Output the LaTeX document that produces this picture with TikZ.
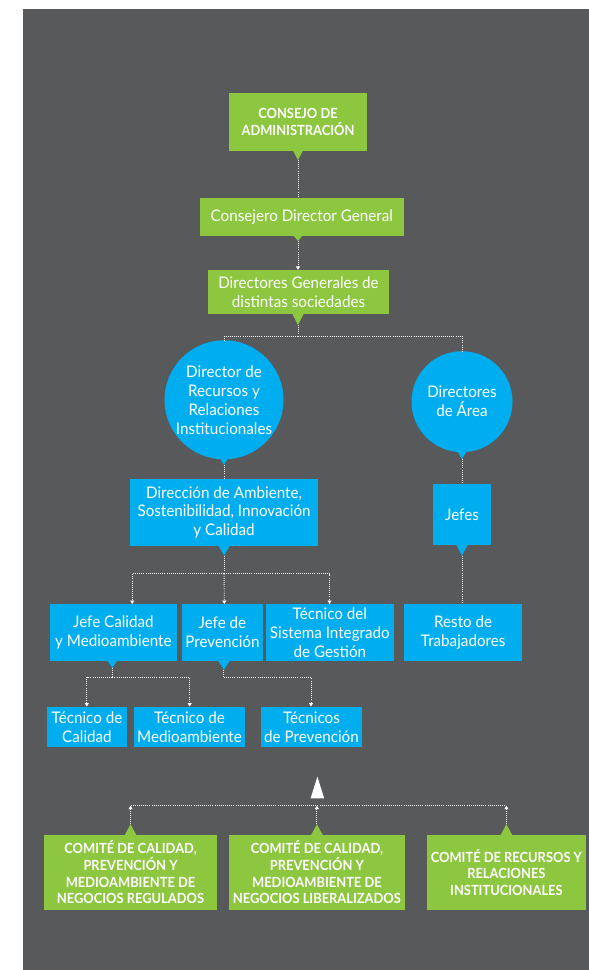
\documentclass[tikz,border=0pt]{standalone}
\usepackage{fontspec}
\setmainfont{Lato}[FakeStretch=0.95]
\newfontfamily\capsfont{Lato}[FakeStretch=0.92]
\usetikzlibrary{arrows.meta,calc}
\definecolor{panel}{RGB}{88,89,91}
\definecolor{cgreen}{RGB}{141,198,63}
\definecolor{cblue}{RGB}{0,174,239}
\begin{document}
\begin{tikzpicture}[x=1pt,y=-1pt,
  base/.style={text=white,inner sep=0pt,align=center},
  gbox/.style={base,fill=cgreen,font=\capsfont\bfseries\fontsize{14}{16.7}\selectfont},
  gboxr/.style={base,fill=cgreen,font=\fontsize{16}{18.8}\selectfont},
  bbox/.style={base,fill=cblue,font=\fontsize{16}{18.8}\selectfont},
  bcirc/.style={base,circle,fill=cblue,font=\fontsize{16}{19}\selectfont},
  conn/.style={draw=white,line width=0.9pt,dash pattern=on 0.9pt off 1.2pt},
  tipa/.style={-{Triangle[width=4pt,length=3.5pt]}}
]
\useasboundingbox (0,0) rectangle (589,970);
\fill[white] (0,0) rectangle (589,970);
\fill[panel] (22.9,9) rectangle (589,970);

% nodes
\node[gbox,minimum width=137.4,minimum height=57.4] (consejo) at (298,122) {CONSEJO DE\\ADMINISTRACIÓN};
\node[gboxr,minimum width=204,minimum height=38] (consejero) at (301.8,216.7) {Consejero Director General};
\node[gboxr,minimum width=180.7,minimum height=44.3] (dirgen) at (298.5,292.2) {Directores Generales de\\distintas sociedades};
\node[bcirc,minimum size=119] (circL) at (224,399.8) {Director de\\Recursos y\\Relaciones\\Institucionales};
\node[bcirc,minimum size=101] (circR) at (462,401.7) {Directores\\de Área};
\node[bbox,minimum width=188.2,minimum height=66.7] (direc) at (224.1,512.4) {Dirección de Ambiente,\\Sostenibilidad, Innovación\\y Calidad};
\node[bbox,minimum width=57.9,minimum height=60.7] (jefes) at (462,514.4) {Jefes};
\node[bbox,minimum width=126.8,minimum height=57] (jefecal) at (113.4,632.5) {Jefe Calidad\\y Medioambiente};
\node[bbox,minimum width=80.4,minimum height=57] (jefeprev) at (222.4,632.5) {Jefe de\\Prevención};
\node[bbox,minimum width=127.7,minimum height=57] (tecsig) at (329.85,632.5) {Técnico del\\Sistema Integrado\\de Gestión};
\node[bbox,minimum width=118,minimum height=57] (resto) at (463.2,632.5) {Resto de\\Trabajadores};
\node[bbox,minimum width=79.4,minimum height=40] (teccal) at (87,727) {Técnico de\\Calidad};
\node[bbox,minimum width=110.4,minimum height=40] (tecmed) at (189.5,727) {Técnico de\\Medioambiente};
\node[bbox,minimum width=100.7,minimum height=40] (tecprev) at (311.45,727) {Técnicos\\de Prevención};
\node[gbox,minimum width=173.1,minimum height=74.7] (com1) at (130.55,872.35) {COMITÉ DE CALIDAD,\\PREVENCIÓN Y\\MEDIOAMBIENTE DE\\NEGOCIOS REGULADOS};
\node[gbox,minimum width=175.4,minimum height=74.7] (com2) at (316.9,872.35) {COMITÉ DE CALIDAD,\\PREVENCIÓN Y\\MEDIOAMBIENTE DE\\NEGOCIOS LIBERALIZADOS};
\node[gbox,minimum width=158.6,minimum height=74.7] (com3) at (506.4,872.35) {COMITÉ DE RECURSOS Y\\RELACIONES\\INSTITUCIONALES};

% pointer tips
\coordinate (t1) at (298,160);
\coordinate (t2) at (298,241);
\coordinate (t3) at (298,325);
\coordinate (t4) at (224,465);
\coordinate (t5) at (462,459);
\coordinate (t6) at (224.1,555.7);
\coordinate (t7) at (462,555.7);
\coordinate (t8) at (112.3,668);
\coordinate (t9) at (223.9,670);
\coordinate (u1) at (130.55,824.3);
\coordinate (u2) at (316.9,824.3);
\coordinate (u3) at (506.4,824.3);

\fill[cgreen] (t1) -- ++(-5,-9.5) -- ++(10,0) -- cycle;
\fill[cgreen] (t2) -- ++(-5,-6) -- ++(10,0) -- cycle;
\fill[cgreen] (t3) -- ++(-5.5,-11) -- ++(11,0) -- cycle;
\fill[cblue] (t4) -- ++(-6,-10) -- ++(12,0) -- cycle;
\fill[cblue] (t5) -- ++(-6,-10) -- ++(12,0) -- cycle;
\fill[cblue] (t6) -- ++(-6,-10.5) -- ++(12,0) -- cycle;
\fill[cblue] (t7) -- ++(-6,-11.5) -- ++(12,0) -- cycle;
\fill[cblue] (t8) -- ++(-5,-7.5) -- ++(10,0) -- cycle;
\fill[cblue] (t9) -- ++(-6,-9.5) -- ++(12,0) -- cycle;
\fill[cgreen] (u1) -- ++(-6,11) -- ++(12,0) -- cycle;
\fill[cgreen] (u2) -- ++(-6,11) -- ++(12,0) -- cycle;
\fill[cgreen] (u3) -- ++(-6,11) -- ++(12,0) -- cycle;

% connectors
\draw[conn] (t1) -- (t1 |- consejero.north);
\draw[conn,tipa] (t2) -- (t2 |- dirgen.north);
\coordinate (h1) at (298,336.3);
\draw[conn] (t3) -- (h1);
\draw[conn] (h1) -- (h1 -| circL) -- (circL.north);
\draw[conn] (h1) -- (h1 -| circR) -- (circR.north);
\draw[conn] (t4) -- (t4 |- direc.north);
\draw[conn] (t5) -- (t5 |- jefes.north);
\coordinate (h2) at (224.1,573.7);
\coordinate (a1) at (132.2,604);
\coordinate (a2) at (224.3,604);
\coordinate (a3) at (329.5,604);
\draw[conn] (t6) -- (h2);
\draw[conn,tipa] (h2) -| (a1);
\draw[conn,tipa] (h2) -- (a2);
\draw[conn,tipa] (h2) -| (a3);
\draw[conn] (t7) -- (t7 |- resto.north);
\coordinate (h3) at (112.3,677.3);
\coordinate (a4) at (86.8,706.5);
\coordinate (a5) at (189.7,706.5);
\draw[conn] (t8) -- (h3);
\draw[conn,tipa] (h3) -| (a4);
\draw[conn,tipa] (h3) -| (a5);
\coordinate (h4) at (223.9,677.3);
\coordinate (a6) at (311,706.5);
\draw[conn] (t9) -- (h4);
\draw[conn,tipa] (h4) -| (a6);
\coordinate (hb) at (317.4,805.7);
\draw[conn,tipa] (u1) -- (u1 |- hb);
\draw[conn,tipa] (u2) -- (u2 |- hb);
\draw[conn,tipa] (u3) -- (u3 |- hb);
\draw[conn] (u1 |- hb) -- (u3 |- hb);
\coordinate (bigtip) at (317.4,776.7);
\fill[white] (bigtip) -- ++(-6.8,21.6) -- ++(13.6,0) -- cycle;
\end{tikzpicture}
\end{document}
